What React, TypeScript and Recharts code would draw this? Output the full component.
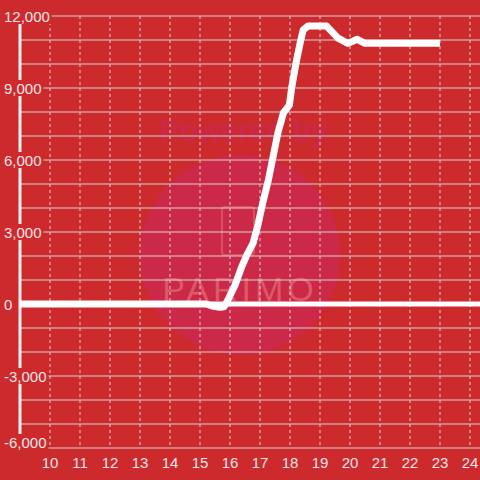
import { LineChart, Line, XAxis, YAxis, CartesianGrid, ReferenceLine } from 'recharts';

const hours = [
    9, 15.2, 15.45, 15.67, 15.8, 15.93, 16.17, 16.39, 16.56, 16.77, 16.93, 17.08, 17.28, 17.6,
    17.78, 17.98, 18.06, 18.22, 18.36, 18.44, 18.6, 19.22, 19.6, 19.93, 20.24, 20.5, 23,
];
const values = [
    0, 0, -100, -140, -120, 170, 790, 1550, 2040, 2540, 3290, 4150, 5170, 7150,
    7960, 8290, 9050, 10170, 11000, 11420, 11580, 11580, 11080, 10860, 11030, 10860, 10860,
];
const xTicks = [10, 11, 12, 13, 14, 15, 16, 17, 18, 19, 20, 21, 22, 23, 24];
const yTicks = [-6000, -3000, 0, 3000, 6000, 9000, 12000];
const yGridValues = [
    -6000, -5000, -4000, -3000, -2000, -1000, 0, 1000, 2000, 3000, 4000, 5000, 6000, 7000, 8000,
    9000, 10000, 11000, 12000,
];

const BG = '#cd2a2e';
const TEXT = '#f6e6e6';
const GRID = '#d6d2d2';
const FONT = '"Liberation Sans", Arial, sans-serif';

const chartData = hours.map((t, i) => ({ t, v: values[i] }));

const fmt = (n: number) => n.toLocaleString('en-US');

const YTick = ({ y, payload }: any) => {
    const label = fmt(payload.value);
    // bottom label is pushed up so it stays inside the chart
    const cy = payload.value === yTicks[0] ? y - 6 : y;
    let w = 0;
    for (const ch of label) w += ch === ',' ? 4.2 : ch === '-' ? 5 : 8.3;
    return (
        <g>
            <rect x={2} y={cy - 8} width={w + 4} height={16} fill={BG} />
            <text x={4} y={cy + 5.5} fill={TEXT} fontSize={15} fontFamily={FONT}>
                {label}
            </text>
        </g>
    );
};

const XTick = ({ x, y, payload }: any) => (
    <text x={x} y={y + 18} fill={TEXT} fontSize={15} fontFamily={FONT} textAnchor="middle">
        {payload.value}
    </text>
);

const Watermark = () => (
    <svg width={480} height={480} style={{ position: 'absolute', left: 0, top: 0 }}>
        <circle cx={240} cy={255} r={100} fill="#cb2947" />
        <text x={244} y={141} fill="#c9294a" fontSize={30} fontWeight="bold" fontFamily={FONT} textAnchor="middle">
            Powered by
        </text>
        <rect x={222} y={207} width={32} height={48} rx={3} fill="none" stroke="#d9505e" strokeWidth={2} />
        <text x={240} y={301} fill="#dc5a66" fontSize={34} fontFamily={FONT} textAnchor="middle" letterSpacing={4}>
            PARIMO
        </text>
    </svg>
);

const App = () => {
    return (
        <div style={{ position: 'absolute', left: 0, top: 0, width: 480, height: 480, background: BG }}>
            <Watermark />
            <div style={{ position: 'absolute', left: 0, top: 0 }}>
                <LineChart width={480} height={480} data={chartData} margin={{ top: 16, right: 0, bottom: 0, left: 0 }}>
                    <CartesianGrid vertical={false} horizontalValues={yGridValues} stroke={GRID} />
                    <CartesianGrid horizontal={false} verticalValues={xTicks} stroke={GRID} strokeDasharray="3 3" />
                    <XAxis
                        dataKey="t"
                        type="number"
                        domain={[9, 24.333]}
                        ticks={xTicks}
                        allowDataOverflow
                        axisLine={false}
                        tickLine={false}
                        tickSize={0}
                        height={32}
                        tick={<XTick />}
                        interval={0}
                    />
                    <YAxis
                        type="number"
                        domain={[-6000, 12000]}
                        ticks={yTicks}
                        width={20}
                        axisLine={{ stroke: '#f4f0f0', strokeWidth: 3 }}
                        tickLine={false}
                        tickSize={0}
                        tick={<YTick />}
                        interval={0}
                    />
                    <ReferenceLine y={0} stroke="#ffffff" strokeWidth={5} />
                    <Line
                        type="linear"
                        dataKey="v"
                        stroke="#ffffff"
                        strokeWidth={7}
                        strokeLinejoin="round"
                        dot={false}
                        activeDot={false}
                        isAnimationActive={false}
                    />
                </LineChart>
            </div>
        </div>
    );
};

export default App;
